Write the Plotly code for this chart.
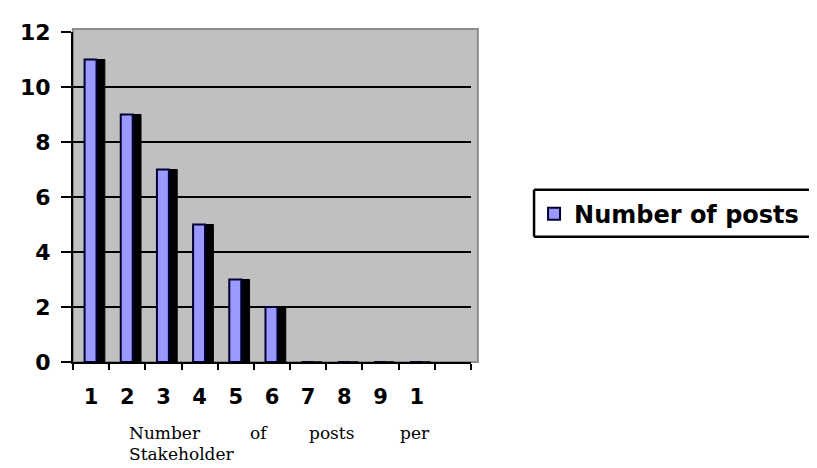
import plotly.graph_objects as go

categories = [1, 2, 3, 4, 5, 6, 7, 8, 9, 10, 11]
tick_labels = ["1", "2", "3", "4", "5", "6", "7", "8", "9", "1", ""]
posts = [11, 9, 7, 5, 3, 2, 0, 0, 0, 0, None]
series_name = "Number of posts"

# page is offset by the 8px default body margin
OFF = 8
W, H = 817 - OFF, 468 - OFF
PL, PR, PT, PB = 67, 471, 25, 362  # plot area in page pixels
L = PL - OFF
T = PT - OFF
pw = PR - PL
ph = PB - PT
R = W - L - pw
B = H - T - ph

def px(x):
    return (x - PL) / pw

def py(y):
    return (PB - y) / ph

fig = go.Figure()
# dark side of the 3D bars
fig.add_trace(go.Bar(
    x=categories, y=posts, width=0.56, offset=-0.18,
    marker=dict(color="#000000", line=dict(color="#000000", width=1)),
    showlegend=False, hoverinfo="skip"))
# front face
fig.add_trace(go.Bar(
    x=categories, y=posts, width=0.33, offset=-0.18, name=series_name,
    marker=dict(color="#9999FF", line=dict(color="#000033", width=2))))

legend_line = dict(color="#000000", width=2.5)
fig.update_layout(
    width=W, height=H,
    margin=dict(l=L, r=R, t=T, b=B),
    paper_bgcolor="white",
    plot_bgcolor="rgba(0,0,0,0)",
    barmode="overlay",
    showlegend=True,
    legend=dict(
        x=px(535), y=py(211), xanchor="left", yanchor="middle",
        borderwidth=0, bgcolor="rgba(0,0,0,0)",
        font=dict(family="DejaVu Sans", size=24, color="#000000", weight="bold"),
        traceorder="reversed"),
    xaxis=dict(
        range=[0.5, 11.5], tickmode="array", tickvals=categories, ticktext=tick_labels,
        ticks="", ticklabelstandoff=15, showgrid=False, zeroline=False,
        showline=True, linecolor="#000000", linewidth=2,
        tickfont=dict(family="DejaVu Sans", size=21, color="#000000", weight="bold"),
        minor=dict(tickvals=[c - 0.5 for c in categories] + [11.5], ticks="outside",
                   ticklen=6, tickwidth=2, tickcolor="#000000", showgrid=False)),
    yaxis=dict(
        range=[0, 12], tickvals=[0, 2, 4, 6, 8, 10, 12], ticks="outside",
        ticklen=10, tickwidth=2, tickcolor="#000000", ticklabelstandoff=6,
        showgrid=True, gridcolor="#000000", gridwidth=2, zeroline=False,
        showline=True, linecolor="#000000", linewidth=2,
        tickfont=dict(family="DejaVu Sans", size=22, color="#000000", weight="bold")),
    shapes=[
        dict(type="rect", xref="paper", yref="paper", x0=0, x1=px(478), y0=0, y1=py(22),
             fillcolor="#C0C0C0", line=dict(color="#8C8C8C", width=2), layer="below"),
        dict(type="line", xref="paper", yref="paper", x0=px(535), x1=px(817),
             y0=py(186), y1=py(186), line=legend_line),
        dict(type="line", xref="paper", yref="paper", x0=px(535), x1=px(817),
             y0=py(234), y1=py(234), line=legend_line),
        dict(type="line", xref="paper", yref="paper", x0=px(535), x1=px(535),
             y0=py(234), y1=py(186), line=legend_line),
    ],
)

serif = dict(family="DejaVu Serif", size=17, color="#000000")
words = [("Number", 122, 434), ("of", 245, 434), ("posts", 305, 434), ("per", 397, 434),
         ("Stakeholder", 122, 456)]
for w, x, y in words:
    fig.add_annotation(text=w, xref="paper", yref="paper", x=px(x), y=py(y),
                       xanchor="left", yanchor="middle", showarrow=False, font=serif)

fig.write_html("out.html")
